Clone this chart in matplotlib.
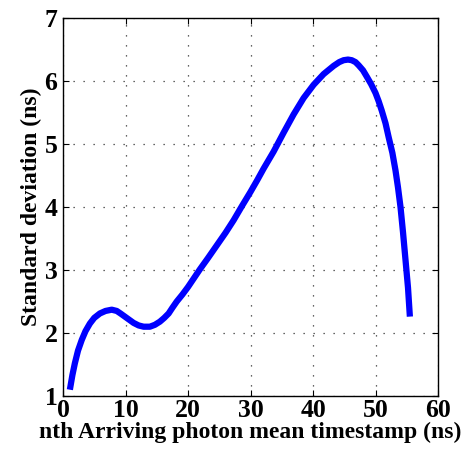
import matplotlib
matplotlib.use('Agg')
import matplotlib.pyplot as plt
import numpy as np

# values
t_mean = [1.1, 1.5, 1.9, 2.4, 3.0, 3.6, 4.3, 5.0, 5.9, 6.8, 7.8, 8.6, 9.2,
          9.9, 10.6, 11.3, 12.1, 12.9, 13.9, 14.7, 15.5, 16.2, 16.9, 17.5,
          18.2, 19.1, 20.0, 21.9, 23.2, 24.6, 26.0, 27.3, 28.6, 30.0, 31.1,
          32.1, 33.7, 35.3, 36.9, 38.5, 40.1, 41.7, 43.3, 44.2, 44.9, 45.6,
          46.2, 46.8, 47.3, 48.0, 48.6, 49.3, 50.0, 50.5, 51.0, 51.6, 52.1,
          52.7, 53.2, 53.6, 54.0, 54.4, 54.8, 55.2, 55.5]
std_dev = [1.10, 1.33, 1.52, 1.72, 1.89, 2.03, 2.15, 2.24, 2.31, 2.35, 2.37,
           2.35, 2.31, 2.26, 2.21, 2.16, 2.12, 2.10, 2.10, 2.13, 2.18, 2.24,
           2.31, 2.40, 2.50, 2.61, 2.73, 3.01, 3.19, 3.39, 3.59, 3.79, 4.01,
           4.24, 4.43, 4.61, 4.88, 5.18, 5.47, 5.73, 5.94, 6.11, 6.24, 6.30,
           6.33, 6.34, 6.33, 6.30, 6.25, 6.17, 6.07, 5.95, 5.81, 5.68, 5.53,
           5.33, 5.11, 4.86, 4.58, 4.31, 4.00, 3.60, 3.16, 2.72, 2.26]

plt.rcParams['font.family'] = ['Liberation Serif', 'DejaVu Serif']
plt.rcParams['font.weight'] = 'bold'

fig = plt.figure(figsize=(4.65, 4.55), dpi=100)
ax = fig.add_axes([63/465, 1-396/455, (438-63)/465, (396-18)/455])

ax.plot(t_mean, std_dev, color='#0000ff', linewidth=4.5,
        solid_capstyle='butt', solid_joinstyle='round')

ax.set_xlim(0, 60)
ax.set_ylim(1, 7)
ax.set_xticks(np.arange(0, 61, 10))
ax.set_yticks(np.arange(1, 8, 1))
ax.grid(True, linestyle=(0, (1, 7)), color='#333333', linewidth=0.9)
ax.tick_params(direction='in', top=True, right=True, labelsize=18.5, length=4)
ax.tick_params(axis='x', pad=2)
ax.tick_params(axis='y', pad=4)
for lbl in ax.get_xticklabels() + ax.get_yticklabels():
    lbl.set_fontweight('bold')
for s in ax.spines.values():
    s.set_linewidth(1.0)

ax.set_xlabel('nth Arriving photon mean timestamp (ns)', fontsize=17,
              fontweight='bold', labelpad=0)
ax.set_ylabel('Standard deviation (ns)', fontsize=17, fontweight='bold', labelpad=2)

fig.savefig('out.png', dpi=100)
